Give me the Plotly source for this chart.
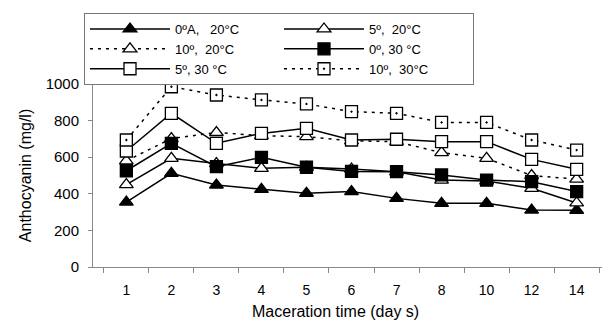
import plotly.graph_objects as go

days = ["1", "2", "3", "4", "5", "6", "7", "8", "10", "12", "14"]

a_0A_20 = [355, 512, 448, 424, 403, 412, 375, 348, 348, 311, 310]
b_5_20 = [450, 594, 565, 539, 545, 535, 520, 475, 470, 430, 350]
c_10_20 = [580, 702, 735, 718, 712, 690, 685, 625, 594, 500, 480]
d_0_30 = [526, 676, 548, 599, 545, 522, 521, 503, 475, 466, 412]
e_5_30 = [634, 840, 676, 730, 758, 694, 698, 685, 685, 588, 534]
f_10_30 = [694, 985, 940, 913, 891, 849, 840, 790, 790, 694, 639]

NB = "\u00a0"
names = [
    "0ºA," + NB * 3 + "20°C",
    "5º," + NB * 2 + "20°C",
    "10º," + NB * 2 + "20°C",
    "0º, 30" + NB + "°C",
    "5º, 30" + NB + "°C",
    "10º," + NB * 2 + "30°C",
]
series = [a_0A_20, b_5_20, c_10_20, d_0_30, e_5_30, f_10_30]
styles = [
    dict(symbol="triangle-up", fill="black", dash="solid"),
    dict(symbol="triangle-up", fill="white", dash="solid"),
    dict(symbol="triangle-up", fill="white", dash="3px,5px"),
    dict(symbol="square", fill="black", dash="solid"),
    dict(symbol="square", fill="white", dash="solid"),
    dict(symbol="square-dot", fill="white", dash="3px,5px"),
]

fig = go.Figure()
for name, vals, st in zip(names, series, styles):
    fig.add_trace(go.Scatter(
        x=days, y=vals, name=name, mode="lines+markers",
        line=dict(color="black", width=1.5, dash=st["dash"]),
        marker=dict(symbol=st["symbol"], size=12, color=st["fill"],
                    line=dict(color="black", width=1.3)),
    ))

font_family = "Liberation Sans, Arial, sans-serif"
# page body has an 8px default margin, so the figure is 8px smaller
fig.update_layout(
    width=602, height=312,
    margin=dict(l=85, r=0, t=76, b=53, autoexpand=False),
    paper_bgcolor="white", plot_bgcolor="white",
    font=dict(family=font_family, color="black", size=14),
    legend=dict(
        orientation="h", x=(474 - 93) / 517, y=1.388, xanchor="right", yanchor="top",
        entrywidth=99, entrywidthmode="pixels", itemwidth=80,
        bordercolor="#777", borderwidth=1, font=dict(size=13),
        bgcolor="white",
    ),
    xaxis=dict(
        type="category", categoryorder="array", categoryarray=days,
        showline=True, linecolor="#888", linewidth=1,
        ticks="outside", tickson="boundaries", ticklen=5, tickcolor="#888",
        showgrid=False, zeroline=False, ticklabelstandoff=10,
        tickfont=dict(size=14),
    ),
    yaxis=dict(
        range=[0, 1000], dtick=200, showline=True, linecolor="#888", linewidth=1,
        ticks="outside", ticklen=4, tickcolor="#888",
        showgrid=False, zeroline=False, ticklabelstandoff=6,
        tickfont=dict(size=15),
        title=dict(text="Anthocyanin (mg/l)", font=dict(size=16), standoff=10),
    ),
    annotations=[dict(
        text="Maceration time (day s)", xref="paper", yref="paper",
        x=(335 - 93) / 517, y=(267 - 311) / 183, xanchor="center", yanchor="middle",
        showarrow=False, font=dict(size=16),
    )],
)

fig.write_html("out.html")
